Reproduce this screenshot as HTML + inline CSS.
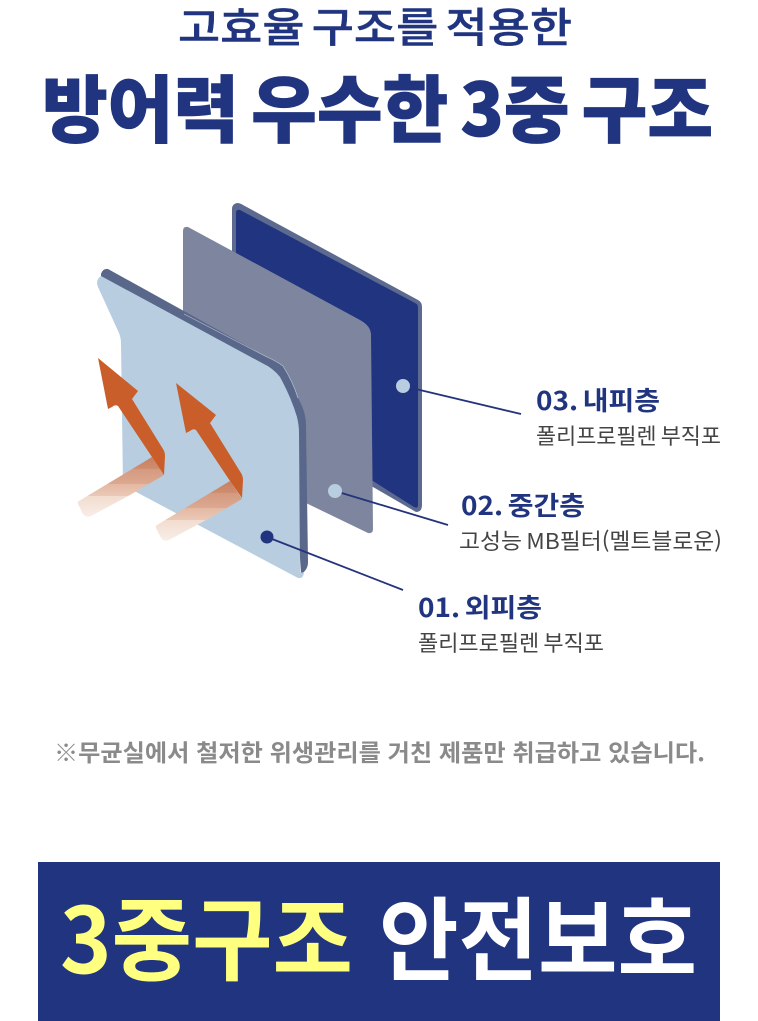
<!DOCTYPE html>
<html lang="ko">
<head>
<meta charset="utf-8">
<style>
html,body{margin:0;padding:0;background:#fff;width:758px;height:1021px;overflow:hidden}
svg{display:block}
text{font-family:"Noto Sans CJK KR","Liberation Sans",sans-serif}
</style>
</head>
<body>
<svg width="758" height="1021" viewBox="0 0 758 1021" xmlns="http://www.w3.org/2000/svg">
<defs>
<linearGradient id="b1" gradientUnits="userSpaceOnUse" x1="0" y1="457" x2="0" y2="517">
<stop offset="0" stop-color="#c8805f"/><stop offset=".2" stop-color="#cf8e70"/>
<stop offset=".2" stop-color="#d49a80"/><stop offset=".45" stop-color="#dca88f"/>
<stop offset=".45" stop-color="#e4b8a3"/><stop offset=".65" stop-color="#ebc8b6"/>
<stop offset=".65" stop-color="#f2dccf"/><stop offset="1" stop-color="#f8eee8"/>
</linearGradient>
<linearGradient id="b2" gradientUnits="userSpaceOnUse" x1="0" y1="481" x2="0" y2="541">
<stop offset="0" stop-color="#c8805f"/><stop offset=".2" stop-color="#cf8e70"/>
<stop offset=".2" stop-color="#d49a80"/><stop offset=".45" stop-color="#dca88f"/>
<stop offset=".45" stop-color="#e4b8a3"/><stop offset=".65" stop-color="#ebc8b6"/>
<stop offset=".65" stop-color="#f2dccf"/><stop offset="1" stop-color="#f8eee8"/>
</linearGradient>
</defs>

<text x="178" y="42" font-size="41" font-weight="500" fill="#20347f" stroke="#20347f" stroke-width="0.4" word-spacing="-5" textLength="394" lengthAdjust="spacingAndGlyphs">고효율 구조를 적용한</text>
<text x="42" y="136" font-size="73" font-weight="900" fill="#20347f" word-spacing="-8" stroke="#20347f" stroke-width="0.8" textLength="671" lengthAdjust="spacingAndGlyphs">방어력 우수한 3중 구조</text>

<!-- back panel -->
<path d="M232 209Q232 204 237 203Q240 203 243 205L418 300Q422 302 422 307L422 505Q422 512 416 512L373 487L232 400Z" fill="#5d6a8f"/>
<path d="M236 213Q236 209 240 210L415 303Q418 304 418 308L418 505Q418 509 414 507L373 481L236 400Z" fill="#20347f"/>

<!-- middle panel -->
<path d="M183 231Q183 226 188 227L360 320Q371 326 371 335L373 529Q373 534 368 533L308 504L183 440Z" fill="#7e859f"/>

<!-- front panel edge -->
<path d="M101 274Q103 268 108 269L267 357Q276 361 283 366Q293 382 298 398Q306 412 306 425L308 562Q308 570 301 574L290 400L262 366L101 279Z" fill="#59678a"/>
<path d="M184 314L267 357Q276 361 283 366Q293 382 298 398" fill="none" stroke="#fff" stroke-width="0.6" opacity=".6"/>
<!-- front panel -->
<path d="M101 276L262 363Q273 368 280 377Q291 397 297 417Q299 425 299 433L300 572L304 573Q303 579 298 578L123 485L121 343Q121 338 119 333L98 287Q95 280 101 276Z" fill="#b8cddf"/>

<!-- arrow 1 -->
<path d="M152 457L164 475L130 495L91 516Q86 518 83 514L78 504Q77 502 79 501Z" fill="url(#b1)"/>
<path d="M98 358L138 391L132 399L163 449Q165 452 165 456L164 475L152 457L122 412L118 406Q115 404 112 407L108 409Z" fill="#c95e2b"/>
<!-- arrow 2 -->
<path d="M230 481L242 499L208 519L169 540Q164 542 161 538L156 528Q155 526 157 525Z" fill="url(#b2)"/>
<path d="M176 383L216 415L210 423L241 473Q243 476 243 480L242 498L230 481L200 436L196 430Q193 428 190 431L186 433Z" fill="#c95e2b"/>

<!-- connectors -->
<line x1="403" y1="386" x2="521" y2="414" stroke="#24337c" stroke-width="1.800"/>
<line x1="335" y1="491" x2="448" y2="525" stroke="#24337c" stroke-width="1.800"/>
<line x1="267" y1="537" x2="403" y2="590" stroke="#24337c" stroke-width="1.800"/>
<circle cx="403" cy="386" r="7" fill="#b8cddf"/>
<circle cx="335" cy="491" r="7" fill="#b8cddf"/>
<circle cx="267" cy="537" r="6.500" fill="#20347f"/>

<!-- labels -->
<text x="536" y="410" font-size="26" font-weight="700" fill="#20347f" word-spacing="-3" textLength="124" lengthAdjust="spacingAndGlyphs">03. 내피층</text>
<text x="536" y="444" font-size="22" fill="#444" word-spacing="-2" textLength="185" lengthAdjust="spacingAndGlyphs">폴리프로필렌 부직포</text>
<text x="461" y="515" font-size="26" font-weight="700" fill="#20347f" word-spacing="-3" textLength="124" lengthAdjust="spacingAndGlyphs">02. 중간층</text>
<text x="459" y="549" font-size="22" fill="#444" word-spacing="-2" textLength="263" lengthAdjust="spacingAndGlyphs">고성능 MB필터(멜트블로운)</text>
<text x="418" y="617" font-size="26" font-weight="700" fill="#20347f" word-spacing="-3" textLength="124" lengthAdjust="spacingAndGlyphs">01. 외피층</text>
<text x="418" y="651" font-size="22" fill="#444" word-spacing="-2" textLength="186" lengthAdjust="spacingAndGlyphs">폴리프로필렌 부직포</text>

<text x="54" y="761" font-size="23.500" font-weight="700" fill="#8a8a8a" textLength="651" lengthAdjust="spacingAndGlyphs">※무균실에서 철저한 위생관리를 거친 제품만 취급하고 있습니다.</text>

<rect x="38" y="862" width="682" height="159" fill="#20347f"/>
<text x="60" y="973" font-size="91" font-weight="700" fill="#ffff80" textLength="293" lengthAdjust="spacingAndGlyphs">3중구조</text>
<text x="379" y="973" font-size="91" font-weight="700" fill="#fff" textLength="318" lengthAdjust="spacingAndGlyphs">안전보호</text>
</svg>
</body>
</html>
